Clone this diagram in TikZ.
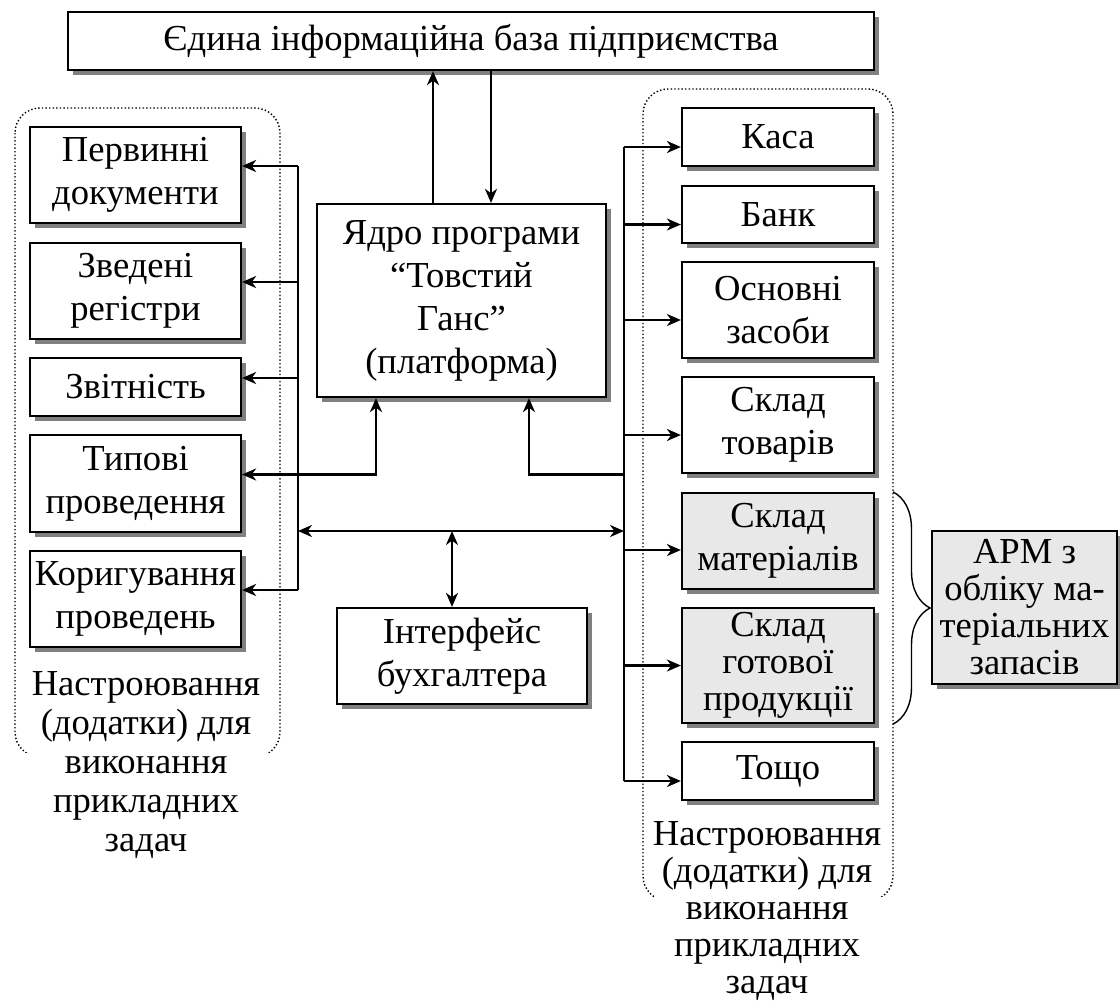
\documentclass[tikz,border=0pt]{standalone}
\usepackage{fontspec}
\setmainfont{Liberation Serif}
\usetikzlibrary{arrows.meta,shadows,decorations.pathreplacing,calc}
\definecolor{lg}{gray}{0.91}
\definecolor{sh}{gray}{0.5}
\begin{document}
\begin{tikzpicture}[x=0.5pt,y=-0.5pt,
  box/.style={draw, line width=1.1pt, fill=white, inner sep=0pt, align=center,
     font=\fontsize{18.3}{21.5}\selectfont,
     drop shadow={shadow xshift=2.5pt, shadow yshift=-2.5pt, fill=sh, opacity=1}},
  graybox/.style={box, fill=lg},
  tight/.style={font=\fontsize{18.3}{18.5}\selectfont},
  lw/.style={minimum width=105.5pt},
  rw/.style={minimum width=96pt},
  conn/.style={line width=1.1pt},
  arr/.style={conn, -{Stealth[length=7pt,width=6pt,inset=2.2pt]}},
  darr/.style={conn, {Stealth[length=7pt,width=6pt,inset=2.2pt]}-{Stealth[length=7pt,width=6pt,inset=2.2pt]}},
  cont/.style={line width=0.7pt, dash pattern=on 0.7pt off 1.1pt, rounded corners=12.5pt},
  lbl/.style={align=center, inner sep=0pt, font=\fontsize{18.3}{19.5}\selectfont},
  lblt/.style={lbl, font=\fontsize{18.3}{18.5}\selectfont}
]
\useasboundingbox (0,0) rectangle (1120,1007);

% dotted containers
\begin{scope}
\clip (0,0) rectangle (1120,752);
\draw[cont] (15,108) rectangle (280,757);
\end{scope}
\begin{scope}
\clip (0,0) rectangle (1120,896);
\draw[cont] (643,89) rectangle (893,901);
\end{scope}

% boxes
\node[box, minimum width=403pt, minimum height=29pt] (top) at (471,41) {Єдина інформаційна база підприємства};
\node[box, minimum width=144.5pt, minimum height=96.5pt] (core) at (461.5,300.5) {Ядро програми\\“Товстий\\Ганс”\\(платформа)};

\node[box, lw, minimum height=48pt] (perv) at (135.5,175) {Первинні\\документи};
\node[box, lw, minimum height=48pt] (zved) at (135.5,291) {Зведені\\регістри};
\node[box, lw, minimum height=29pt] (zvit) at (135.5,387) {Звітність};
\node[box, lw, minimum height=48.5pt] (typ) at (135.5,483.5) {Типові\\проведення};
\node[box, lw, minimum height=48pt] (kor) at (135.5,599) {Коригування\\проведень};

\node[box, minimum width=125pt, minimum height=48pt] (iface) at (462,656) {Інтерфейс\\бухгалтера};

\node[box, rw, minimum height=29pt] (kasa) at (778,137) {Каса};
\node[box, rw, minimum height=28.5pt] (bank) at (778,214.5) {Банк};
\node[box, rw, minimum height=48pt] (osn) at (778,310) {Основні\\засоби};
\node[box, rw, minimum height=48pt] (sktov) at (778,425) {Склад\\товарів};
\node[graybox, rw, minimum height=48pt] (skmat) at (778,541) {Склад\\матеріалів};
\node[graybox, tight, rw, minimum height=57.5pt] (skgot) at (778,665.5) {Склад\\готової\\продукції};
\node[box, rw, minimum height=29pt] (tosh) at (778,771) {Тощо};

\node[graybox, tight, minimum width=92.5pt, minimum height=76.5pt] (arm) at (1024.5,607.5) {АРМ з\\обліку ма-\\теріальних\\запасів};

% labels
\node[lbl, anchor=north] (llab) at (146,671) {Настроювання\\(додатки) для\\виконання\\прикладних\\задач};
\node[lblt, anchor=north] (rlab) at (767,821) {Настроювання\\(додатки) для\\виконання\\прикладних\\задач};

% helper coordinates
\coordinate (xU) at (433,0);
\coordinate (xD) at (491,0);
\coordinate (xL) at (298,0);
\coordinate (xR) at (624,0);
\coordinate (xC1) at (376,0);
\coordinate (xC2) at (529,0);
\coordinate (xI) at (452,0);
\coordinate (xB) at (893,0);
\coordinate (yH) at (0,531);

\coordinate (pa) at ([yshift=4.5pt]perv.east);
\coordinate (za) at ([yshift=4.5pt]zved.east);
\coordinate (va) at ([yshift=4.5pt]zvit.east);
\coordinate (ta) at ([yshift=4.5pt]typ.east);
\coordinate (ka) at ([yshift=4.5pt]kor.east);

\coordinate (r1) at ([yshift=-5pt]kasa.west);
\coordinate (r2) at ([yshift=-5pt]bank.west);
\coordinate (r3) at ([yshift=-5pt]osn.west);
\coordinate (r4) at ([yshift=-5pt]sktov.west);
\coordinate (r5) at ([yshift=-4.5pt]skmat.west);
\coordinate (r6) at (skgot.west);
\coordinate (r7) at ([yshift=-5pt]tosh.west);

% top connections
\draw[arr] (core.north -| xU) -- (top.south -| xU);
\draw[arr] (top.south -| xD) -- (core.north -| xD);

% left bus
\draw[conn] (pa -| xL) -- (ka -| xL);
\draw[arr] (pa -| xL) -- (pa);
\draw[arr] (za -| xL) -- (za);
\draw[arr] (va -| xL) -- (va);
\draw[arr] (ka -| xL) -- (ka);
\draw[darr] (ta) -- (ta -| xC1) -- (core.south -| xC1);

% right bus
\draw[conn] (r1 -| xR) -- (r7 -| xR);
\foreach \r in {r1,r2,r3,r4,r5,r6,r7} \draw[arr] (\r -| xR) -- (\r);
\draw[arr] (ta -| xR) -- (ta -| xC2) -- (core.south -| xC2);

% middle
\draw[darr] (yH -| xL) -- (yH -| xR);
\draw[darr] (yH -| xI) -- (iface.north -| xI);

% brace
\draw[line width=0.7pt, decorate, decoration={brace, amplitude=18.5pt}] (skmat.north -| xB) -- (skgot.south -| xB);
\end{tikzpicture}
\end{document}
